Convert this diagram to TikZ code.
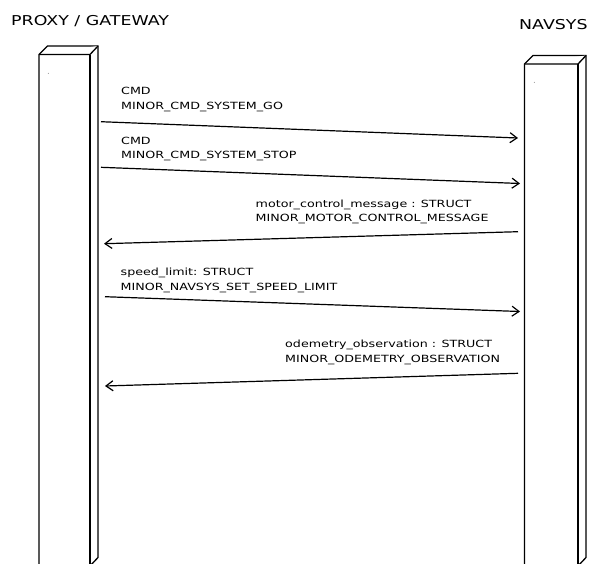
\documentclass[tikz,border=0pt]{standalone}
\usepackage{fontspec}
\setmainfont{DejaVu Sans}[FakeStretch=1.28]
\usetikzlibrary{arrows.meta}
\tikzset{
  lbl/.style={anchor=base west, inner sep=0pt, font=\fontsize{9.9}{12}\selectfont},
  hdr/.style={anchor=base west, inner sep=0pt, font=\fontsize{13.6}{15}\selectfont},
  lifebox/.style={line width=1.3pt, fill=white, line join=miter},
  msg/.style={line width=1.2pt, -{Straight Barb[length=7pt,width=10pt,line width=1.2pt]}},
  dotmark/.style={circle, fill=black!60, inner sep=0pt, minimum size=0.9pt}
}
\begin{document}
\begin{tikzpicture}[x=1pt,y=-1pt]
\useasboundingbox (0,0) rectangle (592,563);
\begin{scope}
\clip (0,0) rectangle (592,563);
% left lifeline box
\draw[lifebox] (39,54.5) -- (47.5,46) -- (98,46) -- (98,557.5) -- (90,566) -- (39,566) -- cycle;
\draw[lifebox] (39,54.5) -- (90,54.5) -- (98,46);
\draw[lifebox] (90,54.5) -- (90,566);
% right lifeline box
\draw[lifebox] (524.5,64) -- (533,55.5) -- (586,55.5) -- (586,557.5) -- (578,566) -- (524.5,566) -- cycle;
\draw[lifebox] (524.5,64) -- (578,64) -- (586,55.5);
\draw[lifebox] (578,64) -- (578,566);
\end{scope}
\node[dotmark] (ldot) at (48.3,73.3) {};
\node[dotmark] (rdot) at (534.3,82.3) {};
% headers
\node[hdr] (proxy) at (11,25) {PROXY / GATEWAY};
\node[hdr] (navsys) at (519,29) {NAVSYS};
% endpoints
\coordinate (a1s) at (101,121.7);
\coordinate (a1e) at (518,138);
\coordinate (a2s) at (101,167.3);
\coordinate (a2e) at (520,183.5);
\coordinate (a3s) at (518,231.7);
\coordinate (a3e) at (104,243.7);
\coordinate (a4s) at (105,296.7);
\coordinate (a4e) at (520,311.5);
\coordinate (a5s) at (518,373.3);
\coordinate (a5e) at (105,386);
\draw[msg] (a1s) -- (a1e);
\draw[msg] (a2s) -- (a2e);
\draw[msg] (a3s) -- (a3e);
\draw[msg] (a4s) -- (a4e);
\draw[msg] (a5s) -- (a5e);
% labels
\node[lbl] (l1a) at (121,94.5) {CMD};
\node[lbl] (l1b) at (121,109) {MINOR\_CMD\_SYSTEM\_GO};
\node[lbl] (l2a) at (121,144) {CMD};
\node[lbl] (l2b) at (121,158.5) {MINOR\_CMD\_SYSTEM\_STOP};
\node[lbl] (l3a) at (255.5,207) {motor\_control\_message : STRUCT};
\node[lbl] (l3b) at (255.5,221.5) {MINOR\_MOTOR\_CONTROL\_MESSAGE};
\node[lbl] (l4a) at (120.5,275.5) {speed\_limit: STRUCT};
\node[lbl] (l4b) at (120.5,290) {MINOR\_NAVSYS\_SET\_SPEED\_LIMIT};
\node[lbl] (l5a) at (285,347) {odemetry\_observation : STRUCT};
\node[lbl] (l5b) at (285,362) {MINOR\_ODEMETRY\_OBSERVATION};
\end{tikzpicture}
\end{document}
